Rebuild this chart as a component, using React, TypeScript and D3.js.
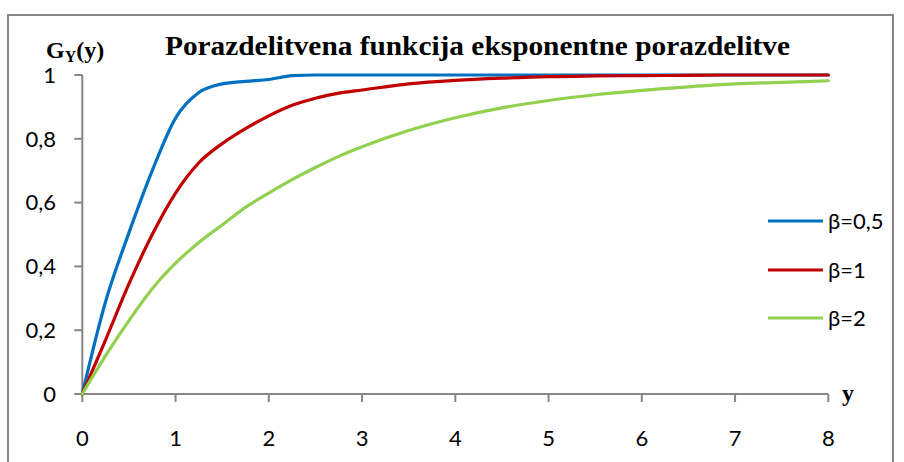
import React from 'react';
import * as d3 from 'd3';

const xValues = [0, 0.25, 0.5, 0.75, 1, 1.25, 1.5, 1.75, 2, 2.25, 2.5, 2.75, 3, 3.5, 4, 4.5, 5, 5.5, 6, 6.5, 7, 7.5, 8];
const blueValues = [0, 0.29, 0.505, 0.7, 0.865, 0.945, 0.972, 0.98, 0.986, 0.998, 1, 1, 1, 1, 1, 1, 1, 1, 1, 1, 1, 1, 1];
const redValues = [0, 0.17, 0.345, 0.5, 0.63, 0.725, 0.785, 0.832, 0.872, 0.905, 0.927, 0.943, 0.953, 0.972, 0.983, 0.99, 0.995, 0.997, 0.998, 0.999, 1, 1, 1];
const greenValues = [0, 0.12, 0.23, 0.33, 0.41, 0.475, 0.53, 0.585, 0.63, 0.672, 0.71, 0.745, 0.775, 0.826, 0.866, 0.897, 0.92, 0.938, 0.952, 0.963, 0.972, 0.977, 0.982];
const seriesNames = ['β=0,5', 'β=1', 'β=2'];
const seriesColors = ['#0070C0', '#C00000', '#92D050'];
const xTicks = [0, 1, 2, 3, 4, 5, 6, 7, 8];
const yTicks = [0, 0.2, 0.4, 0.6, 0.8, 1];
const yTickLabels = ['0', '0,2', '0,4', '0,6', '0,8', '1'];
const titleText = 'Porazdelitvena funkcija eksponentne porazdelitve';

export default function App() {
  const W = 904, H = 462;
  const x = d3.scaleLinear().domain([0, 8]).range([82.3, 828.3]);
  const y = d3.scaleLinear().domain([0, 1]).range([394, 75]);
  const series = [blueValues, redValues, greenValues];
  const line = d3.line<number>()
    .x((_, i) => x(xValues[i]))
    .y((d) => y(d))
    .curve(d3.curveMonotoneX);
  const axisColor = '#868686';
  const tickFont = 'Lato, "Open Sans", sans-serif';
  const legendY = [221, 270, 318];
  return (
    <svg width={W} height={H} style={{ position: 'absolute', left: 0, top: 0, background: '#fff' }}>
      <rect x={8} y={15} width={885} height={470} fill="#fff" stroke={axisColor} strokeWidth={2} />
      <text x={165} y={55} fontFamily='"Liberation Serif", "Times New Roman", serif' fontWeight="bold" fontSize={27} textLength={625} lengthAdjust="spacingAndGlyphs">{titleText}</text>
      <text x={46} y={58} fontFamily='"Liberation Serif", serif' fontWeight="bold" fontSize={24}>
        G<tspan fontSize={16} dy={4}>Y</tspan><tspan dy={-4}>(y)</tspan>
      </text>
      <text x={842} y={401} fontFamily='"Liberation Serif", serif' fontWeight="bold" fontSize={24}>y</text>
      <line x1={x(0)} x2={x(0)} y1={y(1)} y2={y(0)} stroke={axisColor} strokeWidth={2} />
      <line x1={x(0)} x2={x(8)} y1={y(0)} y2={y(0)} stroke={axisColor} strokeWidth={2} />
      {yTicks.map((t, i) => (
        <g key={'y' + i}>
          <line x1={x(0) - 8} x2={x(0)} y1={y(t)} y2={y(t)} stroke={axisColor} strokeWidth={2} />
          <text x={56} y={y(t)} dy="0.35em" textAnchor="end" fontFamily={tickFont} fontSize={22} fill="#000">{yTickLabels[i]}</text>
        </g>
      ))}
      {xTicks.map((t, i) => (
        <g key={'x' + i}>
          <line x1={x(t)} x2={x(t)} y1={y(0)} y2={y(0) + 8} stroke={axisColor} strokeWidth={2} />
          <text x={x(t)} y={438} dy="0.35em" textAnchor="middle" fontFamily={tickFont} fontSize={22} fill="#000">{String(t)}</text>
        </g>
      ))}
      {series.map((s, i) => (
        <path key={'s' + i} d={line(s) || ''} fill="none" stroke={seriesColors[i]} strokeWidth={3.2} strokeLinejoin="round" strokeLinecap="round" />
      ))}
      {seriesNames.map((n, i) => (
        <g key={'l' + i}>
          <line x1={768} x2={823} y1={legendY[i]} y2={legendY[i]} stroke={seriesColors[i]} strokeWidth={3.2} />
          <text x={828} y={legendY[i]} dy="0.35em" fontFamily={tickFont} fontSize={22} fill="#000">{n}</text>
        </g>
      ))}
    </svg>
  );
}
